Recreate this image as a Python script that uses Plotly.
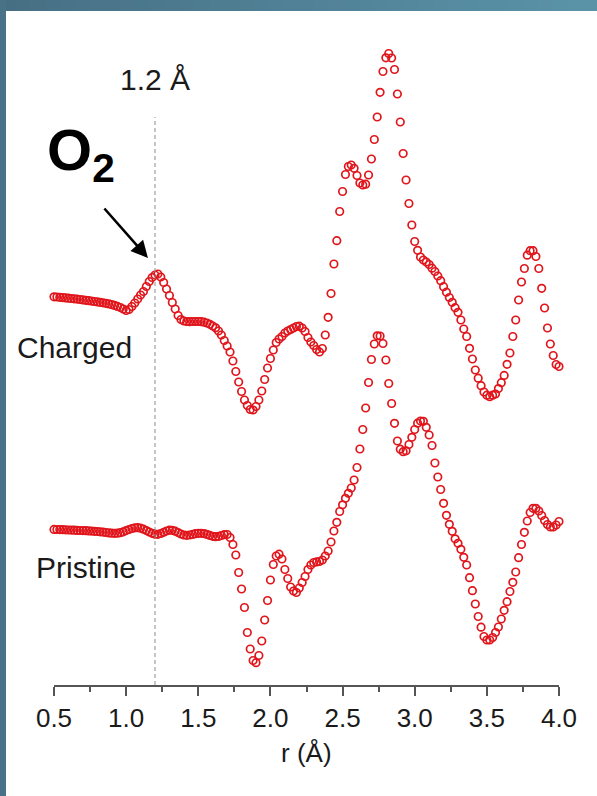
import plotly.graph_objects as go

# ---- data (r in Å, intensities in arbitrary units, curves already offset) ----
r_start = 0.48
r_step = 0.02

charged = [
    388.5, 388.2, 388.0, 387.7, 387.4, 387.1, 386.8, 386.5, 386.2, 385.9,
    385.5, 385.1, 384.7, 384.3, 383.9, 383.5, 383.1, 382.7, 382.2, 381.7,
    381.1, 380.4, 379.6, 378.6, 377.5, 376.0, 374.5, 375.5, 378.5, 382.0,
    386.0, 390.0, 393.5, 398.5, 403.5, 407.5, 410.0, 411.0, 408.0, 402.5,
    396.0, 389.5, 382.5, 376.0, 369.5, 365.5, 364.0, 363.5, 363.3, 363.5,
    363.5, 363.5, 363.3, 362.8, 362.0, 360.7, 359.0, 357.2, 354.0, 350.0,
    344.5, 339.0, 333.0, 324.0, 313.5, 303.0, 293.5, 285.0, 279.5, 275.5,
    275.0, 278.5, 285.0, 294.0, 305.5, 317.0, 326.5, 335.0, 342.5, 346.0,
    348.5, 352.0, 354.0, 355.5, 357.0, 358.5, 358.8, 357.0, 353.5, 347.5,
    343.0, 339.5, 335.5, 333.0, 336.5, 350.0, 367.7, 391.5, 421.0, 444.3,
    473.5, 493.5, 510.5, 518.5, 520.0, 516.7, 509.5, 502.0, 500.0, 500.8,
    510.0, 526.0, 545.5, 568.0, 592.7, 613.5, 627.2, 631.5, 627.0, 615.5,
    591.0, 563.0, 531.5, 505.0, 481.5, 460.0, 443.5, 434.7, 428.0, 425.0,
    423.0, 420.5, 416.8, 413.5, 409.0, 404.3, 398.3, 392.8, 387.5, 382.7,
    377.3, 372.7, 365.0, 356.0, 348.5, 336.7, 326.0, 315.0, 306.8, 299.3,
    293.0, 289.8, 288.3, 289.8, 291.0, 296.4, 302.3, 309.6, 320.7, 332.0,
    348.5, 365.0, 385.0, 403.0, 416.5, 429.8, 434.3, 434.3, 428.5, 416.5,
    396.7, 377.0, 357.0, 341.0, 329.5, 320.5, 318.5, 320.7,
]

pristine = [
    155.7, 155.6, 155.5, 155.4, 155.3, 155.2, 155.0, 154.9, 154.8, 154.6,
    154.5, 154.4, 154.3, 154.1, 153.9, 153.7, 153.5, 153.2, 152.9, 152.5,
    152.1, 151.8, 151.7, 151.8, 152.3, 153.2, 154.4, 155.5, 156.5, 157.2,
    157.3, 156.8, 155.8, 154.4, 153.0, 151.7, 150.8, 150.7, 151.5, 152.7,
    154.0, 154.8, 154.7, 153.8, 152.4, 151.0, 150.0, 149.7, 150.0, 150.6,
    151.3, 151.7, 151.7, 151.4, 150.6, 149.6, 148.7, 148.3, 148.6, 149.5,
    150.4, 150.5, 147.5, 140.5, 130.0, 112.5, 96.0, 77.5, 52.5, 36.0,
    24.5, 22.3, 29.5, 44.0, 65.0, 84.5, 105.0, 120.5, 129.0, 130.8,
    126.0, 115.5, 106.5, 98.0, 94.0, 92.5, 97.0, 102.5, 108.5, 115.5,
    120.0, 122.5, 123.1, 123.5, 125.0, 129.0, 134.0, 143.0, 154.0, 162.7,
    173.5, 180.2, 186.7, 191.7, 197.0, 205.0, 217.5, 236.0, 255.5, 277.0,
    302.5, 325.5, 341.0, 349.2, 349.0, 341.5, 325.0, 301.5, 281.5, 261.7,
    244.0, 235.8, 233.3, 234.2, 240.5, 247.7, 255.5, 261.8, 264.0, 263.7,
    257.7, 250.0, 239.5, 222.0, 208.0, 195.5, 181.7, 169.7, 160.7, 153.7,
    146.2, 141.7, 135.7, 127.7, 120.0, 107.3, 94.3, 81.0, 68.5, 57.8,
    48.5, 45.0, 45.0, 47.5, 52.5, 58.0, 66.0, 74.7, 83.3, 93.5,
    102.7, 113.0, 127.3, 140.5, 152.7, 164.0, 172.5, 176.7, 176.7, 174.0,
    169.5, 164.5, 160.5, 158.0, 158.0, 160.0, 163.5, 166.7,
]

r = [round(r_start + r_step * i, 2) for i in range(len(charged))]
x_ticks = [0.5, 1.0, 1.5, 2.0, 2.5, 3.0, 3.5, 4.0]
o2_bond = 1.2
series_labels = ["Charged", "Pristine"]

# ---- figure ----
W, H = 597, 796
L, R, T, B = 54, 38, 11, 111
YMAX = H - T - B  # 1 unit == 1 px

FONT = "Liberation Sans, Arial, Helvetica, sans-serif"
RED = "#e0161c"

fig = go.Figure()
for name, vals in zip(series_labels, [charged, pristine]):
    fig.add_trace(go.Scatter(
        x=r, y=vals, mode="markers", name=name, cliponaxis=False,
        marker=dict(symbol="circle-open", size=7.5, color=RED,
                    line=dict(width=1.7, color=RED)),
        showlegend=False, hoverinfo="skip",
    ))


def px2paper_x(px):
    return (px - L) / (W - L - R)


def py2paper_y(py):
    return (H - B - py) / YMAX


shapes = []
# dashed guide line at 1.2 Å
shapes.append(dict(type="line", xref="x", yref="y", x0=o2_bond, x1=o2_bond,
                   y0=0, y1=568, line=dict(color="#8c8c8c", width=1, dash="4px,3px")))

# decorative frame (top gradient band and left band)
c0 = (0x47, 0x6f, 0x84)
c1 = (0x5a, 0x93, 0xa8)
n = 40
for i in range(n):
    t = i / (n - 1)
    col = "rgb(%d,%d,%d)" % tuple(round(a + (b - a) * t) for a, b in zip(c0, c1))
    shapes.append(dict(type="rect", xref="paper", yref="paper", layer="above",
                       x0=px2paper_x(W * i / n), x1=px2paper_x(W * (i + 1) / n + 1),
                       y0=py2paper_y(11), y1=py2paper_y(0),
                       line=dict(width=0), fillcolor=col))
shapes.append(dict(type="rect", xref="paper", yref="paper", layer="above",
                   x0=px2paper_x(0), x1=px2paper_x(6),
                   y0=py2paper_y(H), y1=py2paper_y(0),
                   line=dict(width=0), fillcolor="rgb(74,114,134)"))

annotations = [
    dict(x=o2_bond, y=606, xref="x", yref="y", text="1.2 Å", showarrow=False,
         font=dict(size=30, color="#1a1a1a", family=FONT), xanchor="center", yanchor="middle"),
    dict(x=px2paper_x(45), y=py2paper_y(154), xref="paper", yref="paper",
         text="<b>O<sub>2</sub></b>", showarrow=False,
         font=dict(size=58, color="#000000", family=FONT), xanchor="left", yanchor="middle"),
    dict(x=1.151, y=427, ax=0.84, ay=478, xref="x", yref="y", axref="x", ayref="y",
         text="", showarrow=True, arrowhead=2, arrowsize=1.3, arrowwidth=2.6,
         arrowcolor="#000000"),
    dict(x=0.6455, y=338, xref="x", yref="y", text=series_labels[0], showarrow=False,
         font=dict(size=30, color="#1a1a1a", family=FONT), xanchor="center", yanchor="middle"),
    dict(x=0.722, y=118, xref="x", yref="y", text=series_labels[1], showarrow=False,
         font=dict(size=30, color="#1a1a1a", family=FONT), xanchor="center", yanchor="middle"),
    dict(x=0.5, y=py2paper_y(753), xref="paper", yref="paper", text="r (Å)", showarrow=False,
         font=dict(size=26, color="#1a1a1a", family=FONT), xanchor="center", yanchor="middle"),
]

fig.update_layout(
    width=W, height=H,
    margin=dict(l=L, r=R, t=T, b=B, pad=0),
    paper_bgcolor="white", plot_bgcolor="white",
    shapes=shapes, annotations=annotations,
    xaxis=dict(range=[0.5, 4.0], tickvals=x_ticks, ticktext=["%.1f" % v for v in x_ticks],
               showgrid=False, zeroline=False, showline=True, linecolor="#555555",
               linewidth=1.5, ticks="outside", ticklen=9, tickwidth=1.5, tickcolor="#555555",
               ticklabelstandoff=0,
               tickfont=dict(size=26, color="#1a1a1a", family=FONT),
               minor=dict(dtick=0.25, tick0=0.5, ticks="outside", ticklen=5, tickwidth=1.5,
                          tickcolor="#555555", showgrid=False),
               fixedrange=True),
    yaxis=dict(range=[0, YMAX], visible=False, showgrid=False, zeroline=False, fixedrange=True),
)

fig.write_html("out.html")
